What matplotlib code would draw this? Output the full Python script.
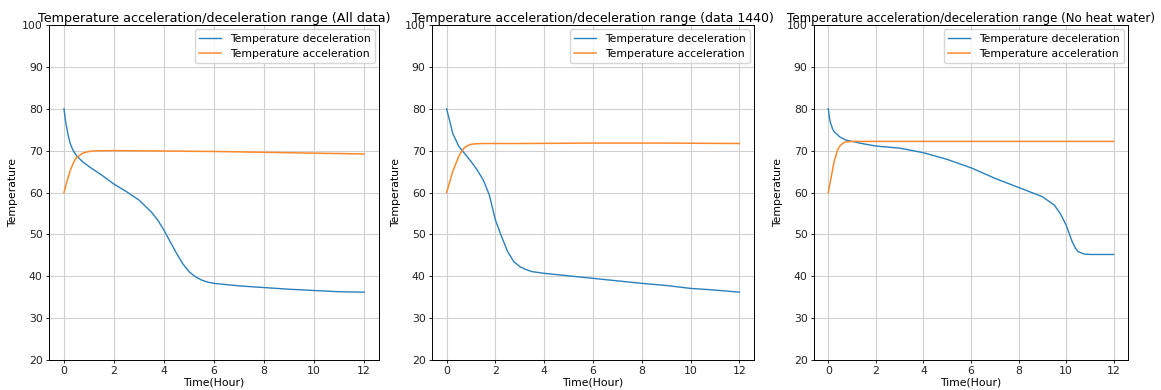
import matplotlib
matplotlib.use("Agg")
import matplotlib.pyplot as plt

titles = ["Temperature acceleration/deceleration range (All data)",
          "Temperature acceleration/deceleration range (data 1440)",
          "Temperature acceleration/deceleration range (No heat water)"]

# Panel 1 (All data)
dec1_x = [0, 0.05, 0.1, 0.18, 0.25, 0.35, 0.5, 0.75, 1, 1.5, 2, 2.5, 3, 3.5, 3.75, 4, 4.25, 4.5, 4.75, 5, 5.25, 5.5, 5.75, 6, 7, 8, 9, 10, 11, 12]
dec1_y = [80, 77.5, 75.7, 73.3, 71.7, 70.2, 68.8, 67.3, 66.2, 64.2, 62.0, 60.2, 58.2, 55.3, 53.4, 51.0, 48.2, 45.5, 43.0, 41.1, 39.9, 39.1, 38.6, 38.3, 37.7, 37.3, 36.9, 36.6, 36.3, 36.2]
acc1_x = [0, 0.1, 0.25, 0.4, 0.5, 0.75, 1, 1.25, 2, 4, 6, 8, 10, 12]
acc1_y = [60, 62.3, 65.3, 67.4, 68.3, 69.4, 69.8, 69.95, 70.0, 69.9, 69.8, 69.6, 69.4, 69.2]

# Panel 2 (data 1440)
dec2_x = [0, 0.05, 0.1, 0.25, 0.5, 0.75, 1, 1.25, 1.5, 1.75, 2, 2.25, 2.5, 2.75, 3, 3.25, 3.5, 4, 5, 6, 7, 8, 9, 10, 11, 12]
dec2_y = [80, 78.8, 77.7, 74.1, 71.0, 69.2, 67.4, 65.4, 63.0, 59.4, 53.4, 49.5, 45.9, 43.5, 42.3, 41.6, 41.1, 40.7, 40.1, 39.5, 38.9, 38.3, 37.8, 37.1, 36.7, 36.2]
acc2_x = [0, 0.25, 0.5, 0.65, 0.75, 0.9, 1, 1.25, 1.5, 3, 6, 9, 12]
acc2_y = [60, 65.0, 68.7, 70.1, 70.8, 71.3, 71.5, 71.65, 71.7, 71.7, 71.8, 71.8, 71.7]

# Panel 3 (No heat water)
dec3_x = [0, 0.05, 0.1, 0.18, 0.25, 0.5, 0.75, 1, 1.5, 2, 3, 4, 5, 6, 7, 8, 9, 9.5, 9.75, 10, 10.25, 10.4, 10.5, 10.75, 11, 12]
dec3_y = [80, 77.8, 76.5, 75.2, 74.5, 73.2, 72.5, 72.2, 71.6, 71.1, 70.6, 69.5, 67.9, 65.9, 63.4, 61.2, 59.0, 57.0, 55.0, 52.2, 48.3, 46.6, 45.9, 45.3, 45.2, 45.2]
acc3_x = [0, 0.1, 0.25, 0.4, 0.5, 0.65, 0.75, 1, 3, 6, 9, 12]
acc3_y = [60, 63.0, 67.5, 70.3, 71.2, 71.9, 72.1, 72.2, 72.2, 72.2, 72.2, 72.2]

series = [(dec1_x, dec1_y, acc1_x, acc1_y),
          (dec2_x, dec2_y, acc2_x, acc2_y),
          (dec3_x, dec3_y, acc3_x, acc3_y)]

xticks = [0, 2, 4, 6, 8, 10, 12]
yticks = [20, 30, 40, 50, 60, 70, 80, 90, 100]

fs = 7.8
title_fs = [9.2, 9.0, 8.6]
fig = plt.figure(figsize=(11.61, 3.9), dpi=100)
lefts = [49, 432, 814]
rights = [379, 754, 1128]
top, bottom = 25, 360
W, H = 1161, 390
for i in range(3):
    ax = fig.add_axes([lefts[i] / W, 1 - bottom / H, (rights[i] - lefts[i]) / W, (bottom - top) / H])
    dx, dy, ax_, ay = series[i]
    ax.plot(dx, dy, color="#2a80bd", lw=1.0, label="Temperature deceleration")
    ax.plot(ax_, ay, color="#fb8a2e", lw=1.1, label="Temperature acceleration")
    ax.set_ylim(20, 100)
    ax.set_xlim(-0.6, 12.6)
    ax.set_xticks(xticks)
    ax.set_yticks(yticks)
    ax.grid(True, color="#d0d0d0", lw=0.8)
    ax.tick_params(labelsize=fs, length=2.5, width=0.6, pad=2, labelcolor="#222222")
    for s in ax.spines.values():
        s.set_linewidth(0.7)
    ax.set_xlabel("Time(Hour)", fontsize=fs, labelpad=1)
    ax.set_ylabel("Temperature", fontsize=fs, labelpad=3)
    ax.set_title(titles[i], fontsize=title_fs[i], pad=2)
    ax.legend(loc="upper right", fontsize=fs, handlelength=2.0, borderaxespad=0.4)

fig.savefig("out.png", dpi=100)
